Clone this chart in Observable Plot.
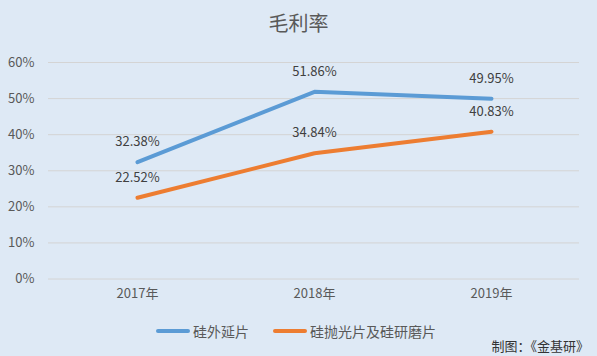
<!DOCTYPE html>
<html><head><meta charset="utf-8">
<script src="https://cdn.jsdelivr.net/npm/d3@7"></script>
<script src="https://cdn.jsdelivr.net/npm/@observablehq/plot@0.6"></script>
<style>
html,body{margin:0;padding:0;}
body{width:597px;height:356px;background:#DEE9F5;position:relative;overflow:hidden;font-family:"Noto Sans CJK SC","Noto Sans",sans-serif;color:#595959;}
#title{position:absolute;left:0;top:8px;width:597px;text-align:center;font-size:20px;color:#595959;}
#chart{position:absolute;left:0;top:50px;}
#legend{position:absolute;left:0;top:320px;width:597px;font-size:14px;}
.item{position:absolute;top:0;display:flex;align-items:center;height:22px;}
.sw{display:inline-block;width:34px;height:4px;border-radius:2px;margin-right:3px;}
#caption{position:absolute;right:8px;top:336px;font-size:13px;color:#333;}
</style></head>
<body>
<div id="title">毛利率</div>
<div id="chart"></div>
<div id="legend"></div>
<div id="caption">制图：《金基研》</div>
<script>
const years = ["2017年","2018年","2019年"];
const seriesNames = ["硅外延片","硅抛光片及硅研磨片"];
const epi = [0.3238, 0.5186, 0.4995];
const polish = [0.2252, 0.3484, 0.4083];
const yTicks = [0,0.1,0.2,0.3,0.4,0.5,0.6];
const colors = ["#5B9BD5","#ED7D31"];

const data = [];
years.forEach((y,i)=>{
  data.push({year:y, series:seriesNames[0], value:epi[i]});
  data.push({year:y, series:seriesNames[1], value:polish[i]});
});
const fmt = d3.format(".2%");

const plot = Plot.plot({
  width:597, height:262,
  marginLeft:48, marginRight:18, marginTop:12, marginBottom:33.5,
  style:{background:"transparent", fontFamily:"'Noto Sans CJK SC','Noto Sans',sans-serif", fontSize:"13px", color:"#595959"},
  x:{type:"point", domain:years, padding:0.5, label:null, tickSize:0, tickPadding:10},
  y:{domain:[0,0.6], ticks:yTicks, tickFormat:d3.format(".0%"), label:null, tickSize:0, tickPadding:14},
  color:{domain:seriesNames, range:colors},
  marks:[
    Plot.gridY(yTicks,{stroke:"#D4D4D4", strokeOpacity:1, strokeWidth:1}),
    Plot.axisY({ticks:yTicks, tickFormat:d3.format(".0%"), tickSize:0, tickPadding:14, fontSize:13, fill:"#595959", label:null}),
    Plot.axisX({tickSize:0, tickPadding:10, fontSize:13, fill:"#595959", label:null}),
    Plot.line(data,{x:"year", y:"value", z:"series", stroke:"series", strokeWidth:4, strokeLinecap:"round", strokeLinejoin:"round"}),
    Plot.text(data,{x:"year", y:"value", text:d=>fmt(d.value), dy:-20, fill:"#404040", fontSize:13})
  ]
});
document.getElementById("chart").appendChild(plot);

const legend = document.getElementById("legend");
const lx = [156, 273];
seriesNames.forEach((n,i)=>{
  const it = document.createElement("div");
  it.className="item";
  it.style.left = lx[i]+"px";
  it.innerHTML = `<span class="sw" style="background:${colors[i]}"></span><span>${n}</span>`;
  legend.appendChild(it);
});
</script>
</body></html>
